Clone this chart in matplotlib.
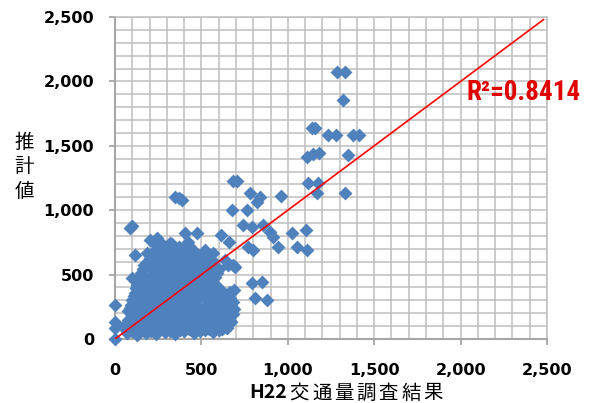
import matplotlib
matplotlib.use("Agg")
import matplotlib.pyplot as plt
from matplotlib.ticker import MultipleLocator, StrMethodFormatter
from matplotlib.offsetbox import TextArea, HPacker, AnnotationBbox

plt.rcParams['font.family'] = ['DejaVu Sans', 'Noto Sans CJK JP']

# dense cluster of links (H22 survey value, estimate)
cluster_x = [
    70, 130, 180, 240, 290, 350, 400, 460, 520, 570, 620,
    55, 105, 160, 210, 265, 320, 370, 425, 480, 530, 585, 640, 670,
    75, 125, 185, 235, 290, 340, 395, 450, 505, 555, 610, 660,
    75, 115, 165, 220, 275, 330, 380, 435, 490, 545, 600, 650, 690,
    90, 140, 195, 250, 305, 355, 410, 465, 520, 575, 630, 680,
    110, 160, 215, 270, 320, 375, 430, 485, 540, 590, 640,
    120, 175, 230, 285, 340, 395, 450, 500, 555, 610, 690,
    140, 195, 250, 300, 355, 410, 465, 520, 570,
    150, 210, 265, 320, 375, 430, 480, 535, 590,
    170, 225, 280, 335, 390, 445, 500, 560,
    200, 255, 310, 365, 420, 475, 530,
    230, 290, 345, 400, 455,
    260, 330, 420,
]
cluster_y = [
    45, 30, 50, 35, 55, 40, 60, 45, 70, 55, 75,
    95, 85, 100, 80, 110, 90, 95, 120, 85, 100, 110, 95, 130,
    150, 165, 140, 160, 145, 170, 150, 135, 165, 145, 160, 175,
    215, 200, 225, 205, 220, 195, 230, 210, 200, 225, 215, 205, 230,
    265, 280, 260, 285, 270, 255, 290, 275, 260, 280, 270, 290,
    330, 345, 320, 340, 335, 325, 350, 330, 345, 320, 340,
    395, 380, 400, 385, 405, 390, 375, 400, 390, 385, 380,
    455, 440, 460, 445, 450, 465, 440, 455, 445,
    515, 500, 520, 505, 525, 510, 500, 520, 510,
    575, 560, 580, 565, 570, 585, 565, 575,
    630, 645, 625, 640, 635, 620, 640,
    690, 700, 685, 705, 680,
    755, 740, 750,
]

# more links lying between the ones above inside the cluster
fill_x = [
    100, 155, 210, 265, 320, 375, 430, 490, 545, 600, 650,
    80, 130, 185, 240, 295, 345, 400, 455, 505, 560, 615, 665,
    100, 150, 205, 260, 315, 365, 420, 475, 530, 580, 635, 680,
    85, 135, 190, 245, 300, 355, 405, 460, 515, 570, 625, 670,
    100, 150, 205, 260, 310, 365, 420, 475, 530, 585, 635, 665,
    115, 165, 220, 275, 330, 385, 440, 490, 545, 600, 660,
    130, 185, 240, 290, 345, 400, 455, 510, 560,
    145, 200, 255, 310, 365, 420, 470, 525, 580,
    160, 215, 270, 325, 380, 435, 490, 545, 600,
    185, 240, 295, 350, 405, 460, 515, 570,
    215, 270, 325, 380, 440, 500,
    245, 310, 370, 430,
]
fill_y = [
    65, 70, 60, 75, 65, 70, 80, 60, 75, 70, 85,
    120, 125, 115, 130, 120, 115, 135, 110, 125, 120, 130, 140,
    180, 185, 175, 190, 180, 185, 175, 190, 180, 175, 185, 195,
    240, 245, 235, 250, 240, 235, 255, 245, 235, 250, 245, 255,
    300, 310, 295, 305, 300, 310, 295, 305, 300, 310, 305, 315,
    360, 365, 355, 370, 360, 365, 355, 370, 360, 365, 355,
    420, 425, 415, 430, 420, 425, 415, 425, 420,
    480, 485, 475, 490, 480, 485, 475, 485, 480,
    540, 545, 535, 550, 540, 545, 535, 545, 540,
    600, 605, 595, 610, 600, 605, 595, 605,
    660, 665, 655, 670, 660, 655,
    720, 725, 715, 720,
]

# scattered links outside the cluster
spread_x = [
    0, 0, 0, 0, 46, 96, 116, 183, 87, 100,
    203, 241, 318, 405, 473, 615, 660, 521, 567, 637, 685, 656, 694,
    345, 370, 390, 675, 762, 685, 706, 781, 820, 839, 962,
    743, 791, 858, 897, 916, 1022, 1105, 945, 1051, 1109, 771, 801,
    791, 849, 810, 878, 665, 665,
    1119, 1177, 1167, 1331,
    1109, 1148, 1183, 1350,
    1138, 1160, 1235, 1279, 1375, 1414,
    1318, 1283, 1331,
]
spread_y = [
    0, 85, 134, 264, 93, 471, 652, 665, 862, 878,
    769, 784, 743, 823, 823, 807, 750, 691, 668, 613, 574, 574, 561,
    1105, 1095, 1080, 1001, 1001, 1229, 1229, 1131, 1066, 1105, 1113,
    885, 872, 885, 833, 794, 825, 846, 717, 717, 691, 717, 691,
    432, 445, 316, 303, 367, 240,
    1209, 1209, 1131, 1136,
    1415, 1436, 1441, 1428,
    1636, 1636, 1584, 1584, 1584, 1584,
    1856, 2070, 2070,
]

line_x = [0, 2480]
line_y = [0, 2480]
r2_label = "R²=0.8414"

grid_col = "#BFBFBF"
spine_col = "#A6A6A6"

fig = plt.figure(figsize=(6.01, 4.03), dpi=100)
ax = fig.add_axes([115 / 601, 64 / 403, 432 / 601, 322 / 403])

ax.scatter(cluster_x + fill_x + spread_x, cluster_y + fill_y + spread_y, marker="D", s=50,
           color="#4F81BD", linewidths=0, zorder=3, clip_on=False)
ax.plot(line_x, line_y, color="#FF0000", lw=1.2, zorder=4)

ax.set_xlim(0, 2500)
ax.set_ylim(0, 2500)
for axis in (ax.xaxis, ax.yaxis):
    axis.set_major_locator(MultipleLocator(500))
    axis.set_minor_locator(MultipleLocator(100))
    axis.set_major_formatter(StrMethodFormatter("{x:,.0f}"))
ax.grid(which="both", color=grid_col, lw=1.1, zorder=0)
ax.set_axisbelow(True)

for side in ("top", "right"):
    ax.spines[side].set_color(grid_col)
    ax.spines[side].set_linewidth(1.1)
for side in ("left", "bottom"):
    ax.spines[side].set_color(spine_col)
    ax.spines[side].set_linewidth(1.5)

ax.tick_params(which="major", direction="out", length=4, width=1.3,
               color=spine_col, labelsize=11.5)
ax.tick_params(which="minor", length=0)
ax.tick_params(axis="y", pad=11)
ax.tick_params(axis="x", pad=13)
for lab in ax.get_xticklabels() + ax.get_yticklabels():
    lab.set_fontweight("bold")

ax.text(2035, 1856, r2_label, color="#E00000", fontsize=19.5, fontweight="bold",
        family=["Roboto Condensed", "Roboto", "DejaVu Sans"], va="baseline", ha="left")

fig.text(24 / 601, 1 - 167 / 403, "推\n計\n値", family="Noto Sans CJK JP",
         fontsize=14, ha="center", va="center", linespacing=1.2)

# x label: bold "H22" followed by widely spaced Japanese characters
parts = [TextArea("H22", textprops=dict(family="Noto Sans CJK JP", fontweight="bold", fontsize=14))]
for ch in "交通量調査結果":
    parts.append(TextArea(ch, textprops=dict(family="Noto Sans CJK JP", fontsize=14)))
box = HPacker(children=parts, align="baseline", pad=0, sep=2)
ab = AnnotationBbox(box, (346 / 601, 1 - 393 / 403), xycoords="figure fraction",
                    frameon=False, box_alignment=(0.5, 0.5))
fig.add_artist(ab)

fig.savefig("out.png", dpi=100)
